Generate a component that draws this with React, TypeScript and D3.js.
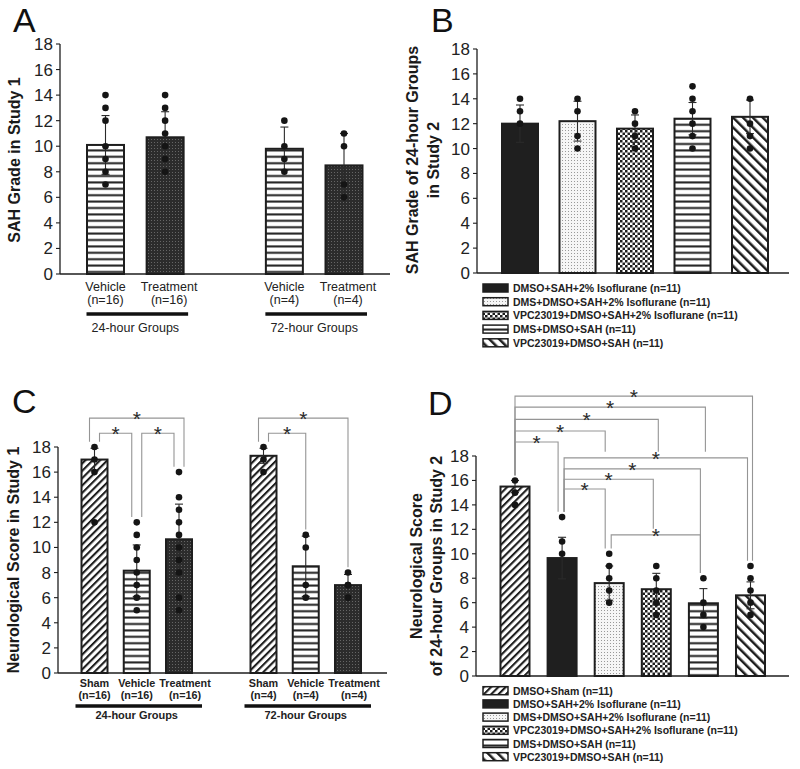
import React from "react";
import * as d3 from "d3";

const FONT = "'Liberation Sans', Arial, Helvetica, sans-serif";
const INK = "#1e1e1e";
const yTickValues = [0, 2, 4, 6, 8, 10, 12, 14, 16, 18];

// ---------- Panel A ----------
const aCategories = ["Vehicle", "Treatment", "Vehicle", "Treatment"];
const aSampleSizes = ["(n=16)", "(n=16)", "(n=4)", "(n=4)"];
const aSlots = [0, 1, 3, 4];
const aMeans = [10.1, 10.7, 9.8, 8.5];
const aSD = [2.3, 2.0, 1.7, 2.5];
const aPoints = [
  [14, 13, 12, 10, 9, 8, 7],
  [14, 13, 12, 11, 10, 9, 8],
  [12, 10, 9, 8],
  [11, 10, 7, 6],
];
const aFills = ["pHLines", "pStipDark", "pHLines", "pStipDark"];
const aGroups = [
  { label: "24-hour Groups", first: 0, last: 1 },
  { label: "72-hour Groups", first: 2, last: 3 },
];

// ---------- Panel B ----------
const bLegend = [
  "DMSO+SAH+2% Isoflurane (n=11)",
  "DMS+DMSO+SAH+2% Isoflurane (n=11)",
  "VPC23019+DMSO+SAH+2% Isoflurane (n=11)",
  "DMS+DMSO+SAH (n=11)",
  "VPC23019+DMSO+SAH (n=11)",
];
const bSlots = [0, 1, 2, 3, 4];
const bMeans = [12.0, 12.2, 11.6, 12.4, 12.55];
const bSD = [1.5, 1.6, 1.1, 1.3, 1.35];
const bPoints = [
  [14, 13, 12],
  [14, 13, 11, 10],
  [13, 12, 11, 10],
  [15, 14, 13, 12, 11, 10],
  [14, 12, 11, 10],
];
const bFills = ["pSolid", "pStipLight", "pChecker", "pHLines", "pDiagBack"];

// ---------- Panel C ----------
const cCategories = ["Sham", "Vehicle", "Treatment", "Sham", "Vehicle", "Treatment"];
const cSampleSizes = ["(n=16)", "(n=16)", "(n=16)", "(n=4)", "(n=4)", "(n=4)"];
const cSlots = [0, 1, 2, 4, 5, 6];
const cMeans = [17.0, 8.15, 10.65, 17.3, 8.5, 7.0];
const cSD = [0.9, 2.05, 2.8, 0.6, 2.4, 0.85];
const cPoints = [
  [18, 17, 16, 12],
  [12, 11, 10, 9, 8, 7, 6, 5],
  [16, 14, 13, 12, 11, 10, 9, 8, 6, 5],
  [18, 17, 16],
  [11, 10, 7, 6],
  [8, 7, 7, 6],
];
const cFills = ["pDiagFwd", "pHLines", "pStipDark", "pDiagFwd", "pHLines", "pStipDark"];
const cGroups = [
  { label: "24-hour Groups", first: 0, last: 2 },
  { label: "72-hour Groups", first: 3, last: 5 },
];
const cBrackets = [
  { from: 0, to: 2, h: 20.3 },
  { from: 0, to: 1, h: 19.1 },
  { from: 1, to: 2, h: 19.1 },
  { from: 3, to: 5, h: 20.3 },
  { from: 3, to: 4, h: 19.1 },
];

// ---------- Panel D ----------
const dLegend = [
  "DMSO+Sham (n=11)",
  "DMSO+SAH+2% Isoflurane (n=11)",
  "DMS+DMSO+SAH+2% Isoflurane (n=11)",
  "VPC23019+DMSO+SAH+2% Isoflurane (n=11)",
  "DMS+DMSO+SAH (n=11)",
  "VPC23019+DMSO+SAH (n=11)",
];
const dSlots = [0, 1, 2, 3, 4, 5];
const dMeans = [15.5, 9.65, 7.6, 7.1, 5.95, 6.6];
const dSD = [0.5, 1.7, 1.4, 1.3, 1.2, 1.1];
const dPoints = [
  [16, 15, 14],
  [13, 11, 10],
  [10, 9, 8, 7, 6],
  [9, 8, 7, 6, 5],
  [8, 6, 5, 4],
  [9, 8, 7, 6, 5],
];
const dFills = ["pDiagFwd", "pSolid", "pStipLight", "pChecker", "pHLines", "pDiagBack"];
const dBrackets = [
  { from: 0, to: 5, h: 22.9 },
  { from: 0, to: 4, h: 22.0 },
  { from: 0, to: 3, h: 21.0 },
  { from: 0, to: 2, h: 20.05 },
  { from: 0, to: 1, h: 19.15 },
  { from: 1, to: 5, h: 17.85 },
  { from: 1, to: 4, h: 16.95 },
  { from: 1, to: 3, h: 16.1 },
  { from: 1, to: 2, h: 15.3 },
  { from: 2, to: 4, h: 11.55 },
];

type Bracket = { from: number; to: number; h: number };

function bracketGeometry(
  brackets: Bracket[],
  cx: (i: number) => number,
  y: d3.ScaleLinear<number, number>,
  points: number[][],
  style: string
) {
  const items = brackets.map((b) => {
    let xf: number, xt: number;
    if (style === "nested") {
      const off = (bar: number, isFrom: boolean) => {
        const touching = brackets.filter((o) => o.from === bar || o.to === bar);
        if (touching.length < 2) return 0;
        const span = b.to - b.from;
        const maxOther = Math.max(
          ...touching.filter((o) => o !== b).map((o) => o.to - o.from)
        );
        const outer = span > maxOther;
        return outer ? (isFrom ? -5 : 5) : isFrom ? 5 : -5;
      };
      xf = cx(b.from) + off(b.from, true);
      xt = cx(b.to) + off(b.to, false);
    } else {
      const isTarget = (bar: number) => brackets.some((o) => o.to === bar);
      const isSource = (bar: number) => brackets.some((o) => o.from === bar);
      xf = cx(b.from) + (isTarget(b.from) ? 2 : 0);
      xt = cx(b.to) + (isSource(b.to) ? -4 : b.from === 0 ? 2 : -3);
    }
    return { ...b, xf, xt, yh: y(b.h) };
  });
  const legBottom = (legX: number, yh: number, bar: number) => {
    let bottom = y(Math.max(...points[bar])) - 3.3 - 2;
    for (const o of items) {
      if (o.yh > yh + 0.5 && o.xf < legX - 0.5 && o.xt > legX + 0.5) {
        bottom = Math.min(bottom, o.yh - 6);
      }
    }
    return bottom;
  };
  return items.map((it) => ({
    ...it,
    yf: legBottom(it.xf, it.yh, it.from),
    yt: legBottom(it.xt, it.yh, it.to),
  }));
}

type Layout = {
  axisX: number;
  axisEnd: number;
  yZero: number;
  yTop: number;
  slotMax: number;
  slotStart: number;
  slotEnd: number;
  barWidth: number;
};

function Panel(props: {
  L: Layout;
  slots: number[];
  means: number[];
  sds: number[];
  points: number[][];
  fills: string[];
  brackets?: Bracket[];
  bracketStyle?: string;
  children?: (cx: (i: number) => number) => React.ReactNode;
}) {
  const { L, slots, means, sds, points, fills, brackets, bracketStyle } = props;
  const y = d3.scaleLinear().domain([0, 18]).range([L.yZero, L.yTop]);
  const x = d3.scaleLinear().domain([0, L.slotMax]).range([L.slotStart, L.slotEnd]);
  const cx = (i: number) => x(slots[i]);
  const bw = L.barWidth;
  const geo = brackets ? bracketGeometry(brackets, cx, y, points, bracketStyle || "") : [];
  return (
    <g>
      {means.map((m, i) => (
        <rect
          key={"bar" + i}
          x={cx(i) - bw / 2}
          y={y(m)}
          width={bw}
          height={y(0) - y(m)}
          fill={`url(#${fills[i]})`}
          stroke={INK}
          strokeWidth={2}
        />
      ))}
      {means.map((m, i) => {
        const hi = y(m + sds[i]);
        const lo = y(Math.max(0, m - sds[i]));
        const c = cx(i);
        return (
          <g key={"err" + i} stroke="#2a2a2a" strokeWidth={1.1}>
            <line x1={c} x2={c} y1={hi} y2={lo} />
            <line x1={c - 4} x2={c + 4} y1={hi} y2={hi} />
            <line x1={c - 4} x2={c + 4} y1={lo} y2={lo} />
          </g>
        );
      })}
      {points.map((pts, i) =>
        pts.map((v, j) => (
          <circle key={`pt${i}-${j}`} cx={cx(i)} cy={y(v)} r={3.3} fill="#151515" />
        ))
      )}
      {geo.map((g, k) => (
        <g key={"br" + k}>
          <path
            d={`M${g.xf},${g.yf}V${g.yh}H${g.xt}V${g.yt}`}
            fill="none"
            stroke="#959595"
            strokeWidth={1.1}
          />
          <text
            x={(g.xf + g.xt) / 2}
            y={g.yh + 8}
            textAnchor="middle"
            fontSize={21}
            fill="#2a2a2a"
            fontFamily={FONT}
          >
            *
          </text>
        </g>
      ))}
      <line x1={L.axisX} x2={L.axisX} y1={y(0)} y2={y(18)} stroke={INK} strokeWidth={1.3} />
      <line x1={L.axisX} x2={L.axisEnd} y1={y(0)} y2={y(0)} stroke={INK} strokeWidth={1.3} />
      {yTickValues.map((t) => (
        <g key={"t" + t}>
          <line x1={L.axisX - 4} x2={L.axisX} y1={y(t)} y2={y(t)} stroke={INK} strokeWidth={1.1} />
          <text
            x={L.axisX - 7}
            y={y(t) + 6}
            textAnchor="end"
            fontSize={17}
            fill="#222"
            fontFamily={FONT}
          >
            {t}
          </text>
        </g>
      ))}
      {props.children ? props.children(cx) : null}
    </g>
  );
}

function Legend(props: { x: number; y0: number; step: number; labels: string[]; fills: string[] }) {
  return (
    <g>
      {props.labels.map((lab, i) => {
        const cy = props.y0 + i * props.step;
        return (
          <g key={"lg" + i}>
            <rect
              x={props.x}
              y={cy - 4}
              width={25}
              height={8}
              fill={`url(#${props.fills[i]})`}
              stroke={INK}
              strokeWidth={1.5}
            />
            <text
              x={props.x + 30}
              y={cy + 4}
              fontSize={10.5}
              fontWeight="bold"
              fill="#222"
              fontFamily={FONT}
            >
              {lab}
            </text>
          </g>
        );
      })}
    </g>
  );
}

function YTitle(props: { x: number; y: number; lines: string[]; gap: number }) {
  return (
    <g>
      {props.lines.map((ln, i) => (
        <text
          key={i}
          transform={`translate(${props.x + i * props.gap},${props.y}) rotate(-90)`}
          textAnchor="middle"
          fontSize={16}
          fontWeight="bold"
          fill="#1a1a1a"
          fontFamily={FONT}
        >
          {ln}
        </text>
      ))}
    </g>
  );
}

function CategoryLabels(props: {
  cx: (i: number) => number;
  names: string[];
  sizes: string[];
  groups: { label: string; first: number; last: number }[];
  yZero: number;
  bold: boolean;
  fontSize: number;
  offsets: number[];
  groupFontSize: number;
  lastShift: number;
}) {
  const { cx, names, sizes, groups, yZero, bold, fontSize, offsets, lastShift } = props;
  const fw = bold ? "bold" : "normal";
  const isLast = (i: number) => groups.some((g) => g.last === i);
  return (
    <g fontFamily={FONT} fill="#222">
      {names.map((n, i) => {
        const lx = cx(i) + (isLast(i) ? lastShift : 0);
        return (
          <g key={"cl" + i}>
            <text x={lx} y={yZero + offsets[0]} textAnchor="middle" fontSize={fontSize} fontWeight={fw}>
              {n}
            </text>
            <text x={lx} y={yZero + offsets[1]} textAnchor="middle" fontSize={fontSize} fontWeight={fw}>
              {sizes[i]}
            </text>
          </g>
        );
      })}
      {groups.map((g, k) => (
        <g key={"gr" + k}>
          <line
            x1={cx(g.first) - 19}
            x2={cx(g.last) + 23}
            y1={yZero + offsets[2]}
            y2={yZero + offsets[2]}
            stroke="#111"
            strokeWidth={3.5}
          />
          <text
            x={(cx(g.first) + cx(g.last)) / 2}
            y={yZero + offsets[3]}
            textAnchor="middle"
            fontSize={props.groupFontSize}
            fontWeight={fw}
          >
            {g.label}
          </text>
        </g>
      ))}
    </g>
  );
}

function PanelLetter(props: { x: number; y: number; t: string }) {
  return (
    <text x={props.x} y={props.y} fontSize={34} fill="#111" fontFamily={FONT}>
      {props.t}
    </text>
  );
}

export default function App() {
  const LA: Layout = { axisX: 60, axisEnd: 390, yZero: 274, yTop: 44, slotMax: 4, slotStart: 105.5, slotEnd: 344, barWidth: 37 };
  const LB: Layout = { axisX: 477, axisEnd: 789, yZero: 273, yTop: 49, slotMax: 4, slotStart: 520, slotEnd: 750, barWidth: 36 };
  const LC: Layout = { axisX: 58, axisEnd: 387, yZero: 673, yTop: 447, slotMax: 6, slotStart: 94.5, slotEnd: 348, barWidth: 26 };
  const LD: Layout = { axisX: 476, axisEnd: 789, yZero: 676, yTop: 456, slotMax: 5, slotStart: 515, slotEnd: 750.5, barWidth: 29 };

  return (
    <svg
      width={800}
      height={769}
      style={{ position: "absolute", left: 0, top: 0, background: "#fff" }}
      xmlns="http://www.w3.org/2000/svg"
    >
      <defs>
        <pattern id="pHLines" patternUnits="userSpaceOnUse" width="10" height="6.4">
          <rect width="10" height="6.4" fill="#fff" />
          <rect y="2.2" width="10" height="2" fill={INK} />
        </pattern>
        <pattern id="pStipDark" patternUnits="userSpaceOnUse" width="3" height="3">
          <rect width="3" height="3" fill="#2c2c2c" />
          <rect x="1" y="1" width="1" height="1" fill="#666" />
        </pattern>
        <pattern id="pStipLight" patternUnits="userSpaceOnUse" width="3" height="3">
          <rect width="3" height="3" fill="#f6f6f6" />
          <rect x="1" y="1" width="1" height="1" fill="#999" />
        </pattern>
        <pattern id="pChecker" patternUnits="userSpaceOnUse" width="5" height="5">
          <rect width="5" height="5" fill="#fff" />
          <rect width="2.5" height="2.5" fill={INK} />
          <rect x="2.5" y="2.5" width="2.5" height="2.5" fill={INK} />
        </pattern>
        <pattern id="pDiagFwd" patternUnits="userSpaceOnUse" width="5.2" height="5.2" patternTransform="rotate(45)">
          <rect width="5.2" height="5.2" fill="#fff" />
          <rect width="2.1" height="5.2" fill={INK} />
        </pattern>
        <pattern id="pDiagBack" patternUnits="userSpaceOnUse" width="7" height="7" patternTransform="rotate(-45)">
          <rect width="7" height="7" fill="#fff" />
          <rect width="2.5" height="7" fill={INK} />
        </pattern>
        <pattern id="pSolid" patternUnits="userSpaceOnUse" width="4" height="4">
          <rect width="4" height="4" fill="#1f1f1f" />
        </pattern>
      </defs>

      {/* Panel A */}
      <PanelLetter x={13} y={32} t="A" />
      <YTitle x={20} y={160} lines={["SAH Grade in Study 1"]} gap={0} />
      <Panel L={LA} slots={aSlots} means={aMeans} sds={aSD} points={aPoints} fills={aFills}>
        {(cx) => (
          <CategoryLabels
            cx={cx}
            names={aCategories}
            sizes={aSampleSizes}
            groups={aGroups}
            yZero={LA.yZero}
            bold={false}
            fontSize={12.5}
            offsets={[16.5, 29.5, 40, 58]}
            groupFontSize={12.5}
            lastShift={4}
          />
        )}
      </Panel>

      {/* Panel B */}
      <PanelLetter x={431} y={32} t="B" />
      <YTitle x={418} y={160} lines={["SAH Grade of 24-hour Groups", "in Study 2"]} gap={20.5} />
      <Panel L={LB} slots={bSlots} means={bMeans} sds={bSD} points={bPoints} fills={bFills} />
      <Legend x={483} y0={288} step={13.7} labels={bLegend} fills={bFills} />

      {/* Panel C */}
      <PanelLetter x={12} y={413} t="C" />
      <YTitle x={18.5} y={560} lines={["Neurological Score in Study 1"]} gap={0} />
      <Panel
        L={LC}
        slots={cSlots}
        means={cMeans}
        sds={cSD}
        points={cPoints}
        fills={cFills}
        brackets={cBrackets}
        bracketStyle="nested"
      >
        {(cx) => (
          <CategoryLabels
            cx={cx}
            names={cCategories}
            sizes={cSampleSizes}
            groups={cGroups}
            yZero={LC.yZero}
            bold={true}
            fontSize={10.8}
            offsets={[14, 25.5, 33, 46]}
            groupFontSize={11}
            lastShift={6}
          />
        )}
      </Panel>

      {/* Panel D */}
      <PanelLetter x={428} y={415} t="D" />
      <YTitle x={421.5} y={566} lines={["Neurological Score", "of 24-hour Groups in Study 2"]} gap={20} />
      <Panel
        L={LD}
        slots={dSlots}
        means={dMeans}
        sds={dSD}
        points={dPoints}
        fills={dFills}
        brackets={dBrackets}
        bracketStyle="shared"
      />
      <Legend x={483} y0={690.7} step={13.2} labels={dLegend} fills={dFills} />
    </svg>
  );
}
